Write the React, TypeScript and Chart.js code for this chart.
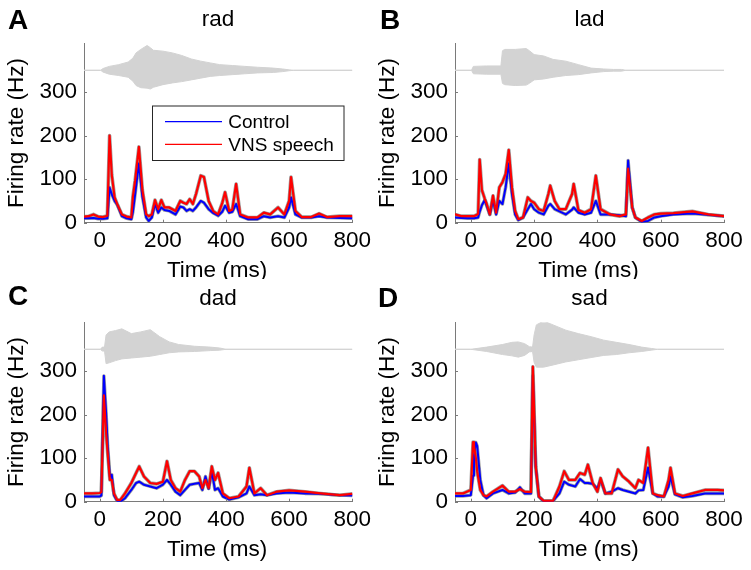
import { useEffect, useRef } from "react";
import { Chart, registerables } from "chart.js";

Chart.register(...registerables);

const FONT = '"Liberation Sans", Arial, Helvetica, sans-serif';
Chart.defaults.font.family = FONT;

// Axis ranges and ticks
const X_MIN = -50;
const X_MAX = 800;
const Y_MIN = 0;
const Y_MAX = 412;
const xTicks = [0, 200, 400, 600, 800];
const yTicks = [0, 100, 200, 300];
const WAVE_CENTER = 350;

// ---------- rad ----------
const radTime = [-50, -35, -20, -5, 10, 24, 31, 38, 47, 55, 70, 85, 100, 105, 112, 124, 135, 147, 155, 165, 175, 185, 195, 205, 220, 240, 255, 265, 275, 285, 295, 305, 320, 330, 345, 360, 375, 388, 397, 410, 420, 432, 445, 470, 500, 520, 540, 565, 585, 600, 606, 620, 640, 670, 695, 720, 760, 800];
const radControl = [10, 10, 11, 9, 9, 10, 81, 65, 50, 42, 15, 10, 8, 25, 65, 136, 60, 12, 4, 12, 43, 23, 35, 29, 27, 19, 37, 35, 27, 31, 27, 35, 50, 46, 31, 22, 16, 25, 39, 23, 25, 43, 15, 8, 8, 15, 12, 15, 12, 35, 58, 19, 12, 12, 15, 12, 11, 10];
const radVNS = [14, 15, 19, 14, 13, 16, 200, 110, 58, 43, 19, 14, 12, 60, 97, 174, 75, 19, 15, 19, 52, 31, 52, 35, 35, 27, 50, 46, 43, 54, 43, 66, 108, 105, 50, 26, 19, 45, 70, 27, 30, 89, 19, 12, 12, 23, 19, 35, 19, 50, 105, 27, 13, 13, 21, 13, 15, 15];
const radWaveTime = [-50, 3, 10, 30, 60, 90, 105, 115, 130, 150, 160, 170, 200, 230, 260, 290, 320, 350, 380, 420, 460, 500, 550, 580, 600, 615, 800];
const radWaveUpper = [0, 0, 4, 9, 13, 19, 28, 40, 48, 57, 52, 46, 44, 40, 34, 26, 21, 17, 13, 11, 9, 7, 5, 3, 1, 0, 0];
const radWaveLower = [0, 0, 4, 9, 12, 16, 25, 35, 40, 41, 43, 39, 33, 29, 26, 22, 18, 14, 12, 10, 8, 6, 5, 3, 1, 0, 0];

// ---------- lad ----------
const ladTime = [-50, -30, -10, 10, 23, 28, 35, 44, 50, 60, 70, 80, 90, 100, 110, 120, 130, 140, 150, 165, 180, 190, 200, 215, 230, 245, 251, 265, 280, 300, 320, 325, 340, 360, 380, 395, 410, 440, 470, 490, 497, 510, 520, 540, 560, 580, 600, 640, 700, 750, 800];
const ladControl = [12, 11, 10, 10, 12, 25, 40, 52, 39, 19, 52, 19, 50, 43, 81, 136, 66, 19, 6, 12, 31, 43, 31, 23, 19, 39, 43, 31, 26, 19, 30, 35, 23, 19, 23, 50, 19, 19, 17, 15, 143, 35, 12, 2, 4, 12, 15, 19, 21, 18, 15];
const ladVNS = [19, 15, 15, 15, 20, 145, 75, 55, 43, 19, 62, 23, 81, 93, 112, 167, 81, 27, 8, 12, 58, 50, 46, 31, 27, 66, 85, 50, 31, 31, 66, 89, 29, 23, 31, 108, 31, 19, 15, 19, 124, 35, 12, 4, 12, 19, 21, 22, 26, 19, 15];
const ladWaveTime = [-50, 2, 8, 50, 95, 100, 107, 140, 175, 185, 200, 230, 260, 300, 340, 380, 420, 450, 476, 490, 800];
const ladWaveUpper = [0, 0, 9, 10, 10, 45, 48, 48, 50, 45, 36, 33, 25, 21, 13, 5, 3, 2, 2, 0, 0];
const ladWaveLower = [0, 0, 8, 9, 9, 30, 33, 35, 34, 30, 22, 20, 16, 12, 10, 6, 3, 2, 2, 0, 0];

// ---------- dad ----------
const dadTime = [-50, -25, 0, 5, 13, 20, 25, 32, 38, 45, 55, 65, 80, 100, 115, 125, 140, 160, 180, 200, 213, 225, 240, 255, 270, 285, 300, 315, 325, 335, 345, 355, 365, 375, 390, 410, 440, 465, 474, 490, 510, 530, 560, 600, 650, 700, 760, 800];
const dadControl = [12, 12, 12, 14, 289, 205, 128, 58, 62, 15, 2, 0, 8, 27, 43, 46, 39, 35, 31, 39, 50, 39, 23, 15, 27, 39, 41, 43, 27, 58, 30, 70, 27, 31, 12, 5, 10, 19, 35, 15, 17, 15, 19, 21, 19, 18, 15, 14];
const dadVNS = [19, 19, 20, 22, 244, 159, 112, 50, 50, 19, 4, 4, 19, 43, 66, 81, 58, 43, 41, 46, 93, 50, 31, 23, 50, 70, 70, 58, 31, 50, 31, 81, 50, 66, 19, 8, 12, 35, 78, 19, 31, 15, 23, 26, 23, 19, 15, 18];
const dadWaveTime = [-50, 2, 8, 15, 20, 30, 50, 70, 100, 130, 160, 190, 220, 250, 300, 350, 380, 400, 800];
const dadWaveUpper = [0, 0, 5, 5, 33, 40, 43, 47, 36, 40, 45, 29, 17, 11, 7, 5, 3, 0, 0];
const dadWaveLower = [0, 0, 4, 4, 33, 31, 26, 22, 20, 18, 16, 12, 8, 6, 5, 3, 2, 0, 0];

// ---------- sad ----------
const sadTime = [-50, -25, 0, 7, 10, 16, 20, 30, 40, 50, 70, 100, 120, 140, 155, 170, 190, 196, 205, 215, 230, 260, 280, 295, 310, 330, 345, 360, 370, 385, 400, 410, 425, 445, 465, 480, 500, 520, 530, 545, 560, 575, 590, 610, 625, 631, 645, 670, 700, 740, 780, 800];
const sadControl = [13, 13, 15, 60, 105, 136, 128, 50, 15, 8, 19, 27, 19, 21, 33, 19, 19, 290, 81, 12, 1, 2, 19, 46, 39, 35, 52, 43, 43, 41, 30, 50, 19, 23, 31, 27, 23, 19, 26, 27, 78, 19, 12, 12, 35, 58, 17, 10, 13, 19, 19, 19];
const sadVNS = [19, 19, 27, 137, 128, 100, 70, 27, 15, 12, 23, 37, 23, 23, 29, 23, 22, 310, 81, 12, 2, 2, 35, 70, 50, 50, 66, 62, 85, 43, 23, 54, 19, 19, 74, 58, 46, 31, 50, 43, 124, 19, 15, 12, 50, 78, 19, 13, 19, 27, 27, 26];
const sadWaveTime = [-50, 0, 50, 100, 130, 150, 170, 185, 195, 200, 207, 230, 260, 300, 340, 380, 420, 460, 500, 540, 570, 590, 800];
const sadWaveUpper = [0, 0, 5, 11, 16, 17, 13, 6, 5, 33, 56, 65, 56, 44, 36, 29, 21, 16, 11, 5, 2, 0, 0];
const sadWaveLower = [0, 0, 5, 12, 15, 18, 14, 6, 5, 30, 41, 41, 36, 29, 24, 19, 14, 12, 8, 5, 2, 0, 0];

const legendLabels = ["Control", "VNS speech"];

// Styles
const BLUE = "#0000ff";
const RED = "#ff0000";
const BAND = "rgba(125,125,125,0.75)";
const WAVE = "#d3d3d3";
const AXIS = "#7a7a7a";

type Panel = {
  letter: string;
  title: string;
  time: number[];
  control: number[];
  vns: number[];
  waveTime: number[];
  waveUpper: number[];
  waveLower: number[];
  legend: boolean;
  left: number;
  top: number;
  width: number;
  height: number;
  areaRight: number;
  letterX: number;
  letterY: number;
};

const panels: Panel[] = [
  { letter: "A", title: "rad", time: radTime, control: radControl, vns: radVNS, waveTime: radWaveTime, waveUpper: radWaveUpper, waveLower: radWaveLower, legend: true, left: 0, top: 0, width: 376, height: 279, areaRight: 354, letterX: 8, letterY: 29 },
  { letter: "B", title: "lad", time: ladTime, control: ladControl, vns: ladVNS, waveTime: ladWaveTime, waveUpper: ladWaveUpper, waveLower: ladWaveLower, legend: false, left: 371, top: 0, width: 380, height: 279, areaRight: 353, letterX: 9, letterY: 28.5 },
  { letter: "C", title: "dad", time: dadTime, control: dadControl, vns: dadVNS, waveTime: dadWaveTime, waveUpper: dadWaveUpper, waveLower: dadWaveLower, legend: false, left: 0, top: 279, width: 376, height: 291, areaRight: 354, letterX: 8, letterY: 26 },
  { letter: "D", title: "sad", time: sadTime, control: sadControl, vns: sadVNS, waveTime: sadWaveTime, waveUpper: sadWaveUpper, waveLower: sadWaveLower, legend: false, left: 371, top: 279, width: 380, height: 291, areaRight: 353, letterX: 7, letterY: 27.5 },
];

const AREA_LEFT = 84;
const AREA_TOP = 43.3;
const AREA_BOTTOM = 222.7;

const decorPlugin = {
  id: "decor",
  afterDraw(chart: any, _args: any, opts: any) {
    const ctx = chart.ctx as CanvasRenderingContext2D;
    const area = chart.chartArea;
    const xs = chart.scales.x;
    const ys = chart.scales.y;
    ctx.save();
    // inward tick marks
    ctx.strokeStyle = AXIS;
    ctx.lineWidth = 1;
    ctx.beginPath();
    xTicks.forEach((v) => {
      const px = Math.round(xs.getPixelForValue(v)) + 0.5;
      ctx.moveTo(px, area.bottom);
      ctx.lineTo(px, area.bottom - 3);
    });
    yTicks.forEach((v) => {
      const py = Math.round(ys.getPixelForValue(v)) + 0.5;
      ctx.moveTo(area.left, py);
      ctx.lineTo(area.left + 3, py);
    });
    ctx.stroke();

    const cx = (area.left + area.right) / 2;
    ctx.fillStyle = "#000";
    ctx.textBaseline = "alphabetic";
    // title
    ctx.font = `22.5px ${FONT}`;
    ctx.textAlign = "center";
    ctx.fillText(opts.title, cx, 26);
    // x label
    ctx.fillText("Time (ms)", cx - 1, 276.5);
    // y label
    ctx.save();
    ctx.translate(23, (area.top + area.bottom) / 2);
    ctx.rotate(-Math.PI / 2);
    ctx.fillText("Firing rate (Hz)", 0, 0);
    ctx.restore();
    // panel letter
    ctx.font = `bold 28px ${FONT}`;
    ctx.textAlign = "left";
    ctx.fillText(opts.letter, opts.letterX, opts.letterY);

    if (opts.legend) {
      const bx = 152.5, by = 106, bw = 191.5, bh = 54.5;
      ctx.fillStyle = "#fff";
      ctx.fillRect(bx, by, bw, bh);
      ctx.strokeStyle = "#262626";
      ctx.lineWidth = 1;
      ctx.strokeRect(bx, by, bw, bh);
      const rows = [
        { y: 121.7, color: BLUE, label: legendLabels[0] },
        { y: 144.3, color: RED, label: legendLabels[1] },
      ];
      ctx.font = `19px ${FONT}`;
      rows.forEach((r) => {
        ctx.strokeStyle = r.color;
        ctx.lineWidth = 1.2;
        ctx.beginPath();
        ctx.moveTo(165, r.y);
        ctx.lineTo(222, r.y);
        ctx.stroke();
        ctx.fillStyle = "#000";
        ctx.fillText(r.label, 228.3, r.y + 6.7);
      });
    }
    ctx.restore();
  },
};

function PanelChart({ p }: { p: Panel }) {
  const ref = useRef<HTMLCanvasElement | null>(null);
  useEffect(() => {
    if (!ref.current) return;
    const pts = (vals: number[]) => p.time.map((t, i) => ({ x: t, y: vals[i] }));
    const up = p.waveTime.map((t, i) => ({ x: t, y: WAVE_CENTER + p.waveUpper[i] }));
    const low = p.waveTime.map((t, i) => ({ x: t, y: WAVE_CENTER - p.waveLower[i] }));
    const common = { pointRadius: 0, tension: 0, borderJoinStyle: "round" as const, borderCapStyle: "round" as const };
    const chart = new Chart(ref.current, {
      type: "line",
      data: {
        datasets: [
          { ...common, data: up, borderColor: WAVE, backgroundColor: WAVE, borderWidth: 1, fill: "+1", order: 5 },
          { ...common, data: low, borderColor: WAVE, borderWidth: 1, fill: false, order: 4 },
          { ...common, data: pts(p.control), borderColor: BAND, borderWidth: 3.4, fill: false, order: 3 },
          { ...common, data: pts(p.vns), borderColor: BAND, borderWidth: 3.6, fill: false, order: 2 },
          { ...common, label: legendLabels[0], data: pts(p.control), borderColor: BLUE, borderWidth: 2, fill: false, order: 1 },
          { ...common, label: legendLabels[1], data: pts(p.vns), borderColor: RED, borderWidth: 2.2, fill: false, order: 0 },
        ] as any,
      },
      options: {
        responsive: false,
        animation: false,
        events: [],
        layout: { padding: { left: 0, top: AREA_TOP, right: p.width - p.areaRight, bottom: 0 } },
        plugins: {
          legend: { display: false },
          tooltip: { enabled: false },
          decor: { title: p.title, letter: p.letter, letterX: p.letterX, letterY: p.letterY, legend: p.legend },
        } as any,
        scales: {
          x: {
            type: "linear",
            min: X_MIN,
            max: X_MAX,
            afterBuildTicks: (s: any) => {
              s.ticks = xTicks.map((v) => ({ value: v }));
            },
            afterFit: (s: any) => {
              s.height = p.height - AREA_BOTTOM;
            },
            grid: { display: false, drawTicks: false },
            border: { display: true, color: AXIS, width: 1 },
            ticks: { font: { size: 22.5, family: FONT }, color: "#000", padding: 5, maxRotation: 0, autoSkip: false },
          },
          y: {
            type: "linear",
            min: Y_MIN,
            max: Y_MAX,
            afterBuildTicks: (s: any) => {
              s.ticks = yTicks.map((v) => ({ value: v }));
            },
            afterFit: (s: any) => {
              s.width = AREA_LEFT;
            },
            grid: { display: false, drawTicks: false },
            border: { display: true, color: AXIS, width: 1 },
            ticks: { font: { size: 22.5, family: FONT }, color: "#000", padding: 7, autoSkip: false },
          },
        },
      },
      plugins: [decorPlugin as any],
    });
    return () => chart.destroy();
  }, [p]);
  return (
    <canvas
      ref={ref}
      width={p.width}
      height={p.height}
      style={{ position: "absolute", left: p.left, top: p.top, width: p.width, height: p.height }}
    />
  );
}

export default function App() {
  return (
    <div style={{ position: "absolute", left: 0, top: 0, width: 751, height: 570, background: "#fff", overflow: "hidden" }}>
      {panels.map((p) => (
        <PanelChart key={p.letter} p={p} />
      ))}
    </div>
  );
}
